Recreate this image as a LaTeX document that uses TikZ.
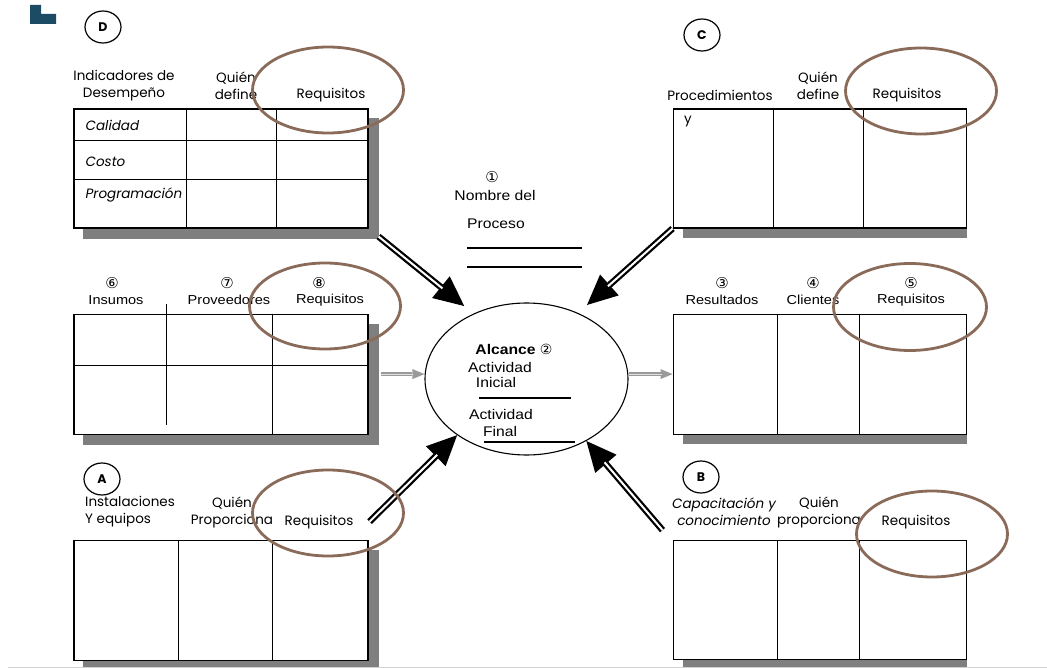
\documentclass[tikz,border=0pt]{standalone}
\usepackage{fontspec}
\setmainfont{Liberation Sans}
\newfontfamily\arialx[FakeStretch=1.12]{Liberation Sans}
\newfontfamily\comicx{Poppins}
\newfontfamily\circnum{DejaVu Sans}
\usepackage{tikz}
\usetikzlibrary{arrows.meta,positioning,calc,shapes.geometric,backgrounds}
\definecolor{shadowgray}{HTML}{7F7F7F}
\definecolor{ringbrown}{HTML}{8A6B5A}
\definecolor{markblue}{HTML}{1C4B66}
\definecolor{flowgray}{HTML}{9A9A9A}

\begin{document}
\begin{tikzpicture}[
  x=1pt,y=-1pt,
  tbl/.style={draw,line width=1.1pt,fill=white,inner sep=0pt,minimum width=294pt,minimum height=120pt},
  grid/.style={line width=1.1pt},
  shade/.style={fill=shadowgray},
  ring/.style={draw=ringbrown,line width=2.8pt,ellipse,inner sep=0pt,minimum width=151pt,minimum height=86pt},
  tag/.style={draw,line width=1.2pt,ellipse,inner sep=0pt,minimum width=36pt,minimum height=32pt,
              font=\comicx\bfseries\fontsize{12.5}{12.5}\selectfont},
  hdr/.style={font=\comicx\fontsize{13.5}{17}\selectfont,align=center,inner sep=0pt},
  row/.style={font=\comicx\itshape\fontsize{13.5}{15}\selectfont,anchor=west,inner sep=0pt},
  lbl/.style={font=\arialx\fontsize{13}{16}\selectfont,inner sep=0pt},
  big/.style={font=\arialx\fontsize{14}{16}\selectfont,inner sep=0pt},
  num/.style={font=\circnum\fontsize{15}{15}\selectfont,inner sep=0pt},
  feed/.style={line width=6.5pt,shorten >=#1,-{Triangle[length=30pt,width=28pt,line width=0pt]},
               postaction={draw=white,line width=2pt,arrows=-,shorten >=#1+28pt}},
  feed/.default=0pt,
  flow/.style={draw=flowgray,line width=3.5pt,-{Triangle[length=12pt,width=10pt,line width=0pt]},
               postaction={draw=white!70!flowgray,line width=1.2pt,arrows=-,shorten >=11pt}}
]
\useasboundingbox (0,0) rectangle (1047,668);

\fill[markblue] (30,5) rectangle (41,24) (41,14) rectangle (56,24);

\node[tag] (tagD) at (103,27) {D};
\node[tag] (tagC) at (702,35) {C};
\node[tag] (tagA) at (102,479) {A};
\node[tag] (tagB) at (701,477) {B};

\node[tbl,minimum height=119pt] (tabD) at (221,168.5) {};
\node[tbl,below=85pt of tabD] (tabI) {};
\node[tbl,below=105pt of tabI] (tabA) {};
\node[tbl,minimum width=293pt,minimum height=119pt,right=304pt of tabD] (tabC) {};
\node[tbl,minimum width=293pt,right=304pt of tabI] (tabR) {};
\node[tbl,minimum width=293pt,minimum height=119pt,right=304pt of tabA] (tabB) {};

\begin{scope}[on background layer]
  \fill[white] (0,0) rectangle (1047,668);
  \foreach \t in {tabD,tabI,tabA}
    \fill[shade] ($(\t.north west)+(10,10)$) rectangle ($(\t.south east)+(10,10)$);
  \foreach \t in {tabC,tabR,tabB}
    \fill[shade] ($(\t.south west)+(10,0)$) rectangle ($(\t.south east)+(0,9)$);
\end{scope}

\foreach \dx in {113,203} \draw[grid] ($(tabD.north west)+(\dx,0)$) -- ($(tabD.south west)+(\dx,0)$);
\foreach \dy in {32,71} \draw[grid] ($(tabD.north west)+(0,\dy)$) -- ($(tabD.north east)+(0,\dy)$);
\draw[grid] ($(tabI.north west)+(0,52)$) -- ($(tabI.north east)+(0,52)$);
\draw[grid] ($(tabI.north west)+(199,0)$) -- ($(tabI.south west)+(199,0)$);
\draw[grid] ($(tabI.north west)+(93,-10)$) -- ($(tabI.south west)+(93,-10)$);
\foreach \dx in {105,199} \draw[grid] ($(tabA.north west)+(\dx,0)$) -- ($(tabA.south west)+(\dx,0)$);
\foreach \dx in {101,191} \draw[grid] ($(tabC.north west)+(\dx,0)$) -- ($(tabC.south west)+(\dx,0)$);
\foreach \dx in {105,187} \draw[grid] ($(tabR.north west)+(\dx,0)$) -- ($(tabR.south west)+(\dx,0)$);
\foreach \dx in {105,187} \draw[grid] ($(tabB.north west)+(\dx,0)$) -- ($(tabB.south west)+(\dx,0)$);

\node[hdr] (indD) at (124,86) {Indicadores de\\Desempeño};
\node[hdr] (quienD) at (236,86) {Quién\\define};
\node[hdr] (reqD) at (331,95) {Requisitos};
\node[row] (calidad) at ($(tabD.north west)+(12,17)$) {Calidad};
\node[row] (costo) at ($(tabD.north west)+(12,53)$) {Costo};
\node[row] (prog) at ($(tabD.north west)+(12,87)$) {Programación};

\node[hdr] (procC) at (720,95) {Procedimientos};
\node[hdr] (quienC) at (818,86) {Quién\\define};
\node[hdr] (reqC) at (907,95) {Requisitos};
\node[hdr] (yC) at (688,122) {y};

\node[num] (n6) at (112,283) {⑥};
\node[lbl] (insumos) at (116,300) {Insumos};
\node[num] (n7) at (227,283) {⑦};
\node[lbl] (prov) at (229,300) {Proveedores};
\node[num] (n8) at (319,283) {⑧};
\node[lbl] (reqI) at (330,300) {Requisitos};

\node[num] (n3) at (722,283) {③};
\node[lbl] (result) at (722,300) {Resultados};
\node[num] (n4) at (813,283) {④};
\node[lbl] (clientes) at (813,300) {Clientes};
\node[num] (n5) at (911,283) {⑤};
\node[lbl] (reqR) at (911,300) {Requisitos};

\node[hdr,align=left,anchor=west] (instA) at (85,512) {Instalaciones\\Y equipos};
\node[hdr] (quienA) at (232,512) {Quién\\Proporciona};
\node[hdr] (reqA) at (319,522) {Requisitos};

\node[hdr,font=\comicx\itshape\fontsize{13.5}{17}\selectfont] (capB) at (724,512) {Capacitación y\\conocimiento};
\node[hdr] (quienB) at (819,512) {Quién\\proporciona};
\node[hdr] (reqB) at (916,522) {Requisitos};

\node[num] (n1) at (492,177) {①};
\node[big] (nombre) at (495,195) {Nombre del};
\node[big] (proceso) at (496,224) {Proceso};
\draw[grid] (467,248) -- (582,248);
\draw[grid] (467,267) -- (582,267);

\node[draw,line width=1.1pt,ellipse,inner sep=0pt,minimum width=203pt,minimum height=152pt] (alcance) at (526.5,379) {};
\node[big] (alc) at (514,349) {{\bfseries Alcance} {\circnum\fontsize{14}{14}\selectfont②}};
\node[big] (act1) at (500,367) {Actividad};
\node[big] (inicial) at (496,382) {Inicial};
\draw[grid] (479,398) -- (571,398);
\node[big] (act2) at (501,414) {Actividad};
\node[big] (final) at (500,431) {Final};
\draw[grid] (484,442) -- (575,442);

\draw[feed=12pt] ($(tabD.south east)+(10,8)$) -- (alcance.129);
\draw[feed=12pt] (tabC.south west) -- (alcance.52);
\draw[feed] ($(tabA.north east)+(1,-18)$) -- (alcance.219);
\draw[feed] ($(tabB.north west)+(-10,-10)$) -- (alcance.314);
\draw[flow] ($(tabI.east)+(12,0)$) -- (tabI.east -| alcance.west);
\draw[flow] (alcance.east |- tabR.west) -- (tabR.west);

\node[ring] (ringD) at (328,90) {};
\node[ring] (ringC) at (921,91) {};
\node[ring] (ringI) at (325,306) {};
\node[ring,minimum width=153pt,minimum height=87pt] (ringR) at (910,307) {};
\node[ring] (ringA) at (328,513) {};
\node[ring] (ringB) at (932,534) {};

\draw[gray!35,line width=1pt] (8,667) -- (1047,667);
\end{tikzpicture}
\end{document}
